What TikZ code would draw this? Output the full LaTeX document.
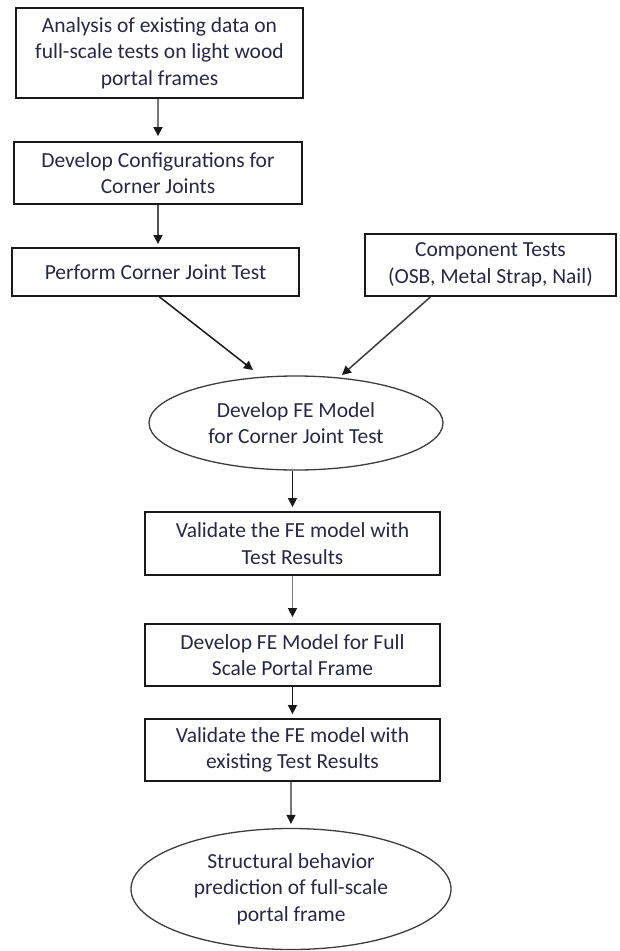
\documentclass[tikz,border=0pt]{standalone}
\usepackage{fontspec}
\setmainfont{Carlito}
\usetikzlibrary{arrows.meta,shapes.geometric}
\definecolor{txt}{RGB}{40,40,66}
\definecolor{edge}{RGB}{25,25,25}
\definecolor{shaft}{RGB}{120,120,120}
\begin{document}
\begin{tikzpicture}[x=1pt,y=-1pt,
  lbl/.style={font=\fontsize{21.5}{26.5}\selectfont, text=txt, align=center, inner sep=0pt},
  box/.style={lbl, draw=edge, line width=1.8pt, rectangle},
  oval/.style={lbl, draw=edge!85, line width=1.3pt, ellipse},
  arr/.style={line width=1.5pt, draw=edge, -{Triangle[length=9pt,width=9pt,color=edge]}},
  garr/.style={arr, draw=shaft}]
\useasboundingbox (0,0) rectangle (620,951);
\node[box, minimum width=287pt, minimum height=90pt] (b1) at (159.5,53)
  {Analysis of existing data on\\full-scale tests on light wood\\portal frames};
\node[box, minimum width=288pt, minimum height=62pt] (b2) at (158,173)
  {Develop Configurations for\\Corner Joints};
\node[box, minimum width=287pt, minimum height=48pt] (b3) at (155.5,272)
  {Perform Corner Joint Test};
\node[box, minimum width=251pt, minimum height=62pt] (b4) at (490.5,265)
  {Component Tests\\(OSB, Metal Strap, Nail)};
\node[oval, minimum width=294pt, minimum height=94pt] (e1) at (296,423)
  {Develop FE Model\\for Corner Joint Test};
\node[box, minimum width=295pt, minimum height=63pt] (b5) at (292.5,543.5)
  {Validate the FE model with\\Test Results};
\node[box, minimum width=295pt, minimum height=62pt] (b6) at (292.5,655)
  {Develop FE Model for Full\\Scale Portal Frame};
\node[box, minimum width=295pt, minimum height=62pt] (b7) at (292.5,750)
  {Validate the FE model with\\existing Test Results};
\node[oval, minimum width=320pt, minimum height=121pt] (e2) at (291,889)
  {Structural behavior\\prediction of full-scale\\portal frame};

\draw[garr, shorten >=5pt] (b1.south -| b2.north) -- (b2.north);
\draw[arr, draw=edge!75, shorten >=3pt] (b2.south) -- (b2.south |- b3.north);
\draw[arr] ([xshift=4pt]b3.south) -- ([shift={(-43,-53)}]e1.center);
\draw[arr, draw=edge!85] ([xshift=-60pt]b4.south) -- ([shift={(46,-48)}]e1.center);
\draw[arr, shorten >=4pt] (e1.south -| b5.north) -- (b5.north);
\draw[garr, shorten >=6pt] (b5.south) -- (b6.north);
\draw[arr, shorten >=4pt] (b6.south) -- (b7.north);
\draw[garr, shorten >=4pt] (b7.south -| e2.north) -- (e2.north);
\end{tikzpicture}
\end{document}
